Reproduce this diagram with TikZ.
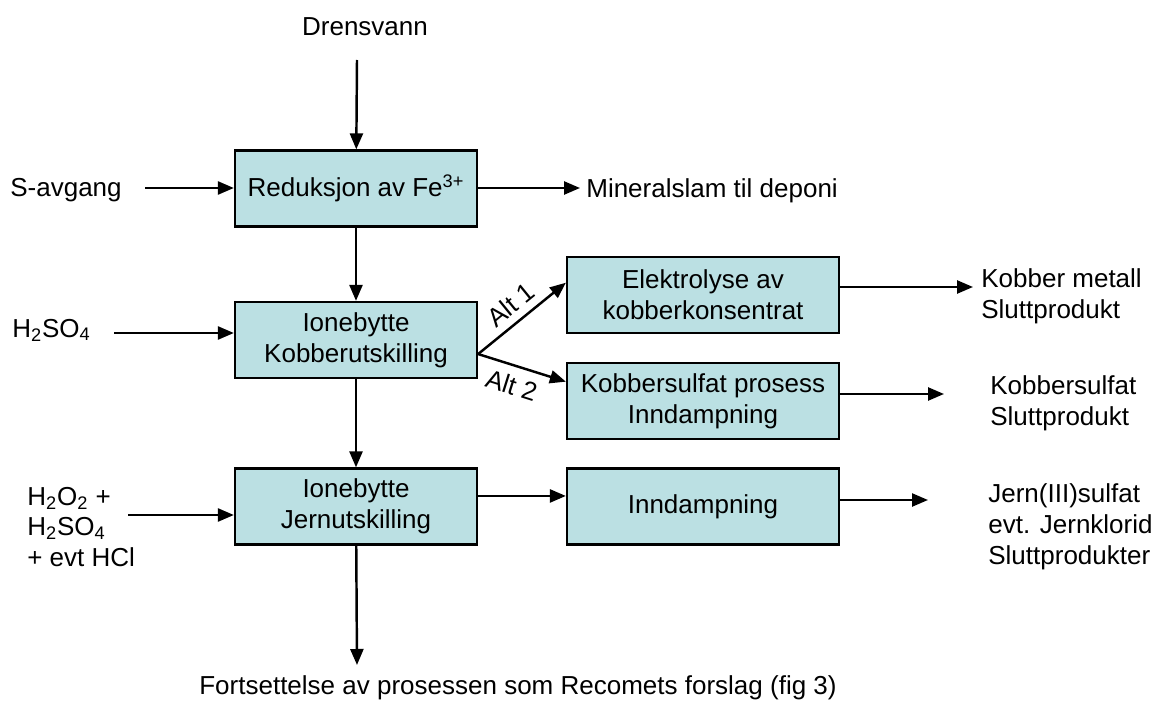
\documentclass[tikz,border=0pt]{standalone}
\usepackage{fontspec}
\setmainfont{Liberation Sans}
\usetikzlibrary{positioning}
\usetikzlibrary{arrows.meta}

\definecolor{boxfill}{RGB}{187,224,227}

\begin{document}
\begin{tikzpicture}[x=0.02cm,y=-0.02cm,
    txt/.style={font=\fontsize{14.8}{17.6}\selectfont, inner sep=0pt},
    box/.style={txt, draw=black, line width=1.3pt, fill=boxfill, align=center,
        minimum width=4.84cm, minimum height=1.52cm},
    widebox/.style={box, minimum width=5.44cm},
    flow/.style={line width=1.4pt, -{Triangle[length=0.32cm,width=0.26cm]}}]

\useasboundingbox (0,0) rectangle (1157,706);

% process boxes
\node[box] (red) at (356,188.5) {Reduksjon av Fe\textsuperscript{3+}};
\node[box] (kob) at (356,340) {Ionebytte\\Kobberutskilling};
\node[box] (jern) at (356,506.5) {Ionebytte\\Jernutskilling};
\node[widebox] (elek) at (703,295) {Elektrolyse av\\kobberkonsentrat};
\node[widebox] (ksulf) at (703,401) {Kobbersulfat prosess\\Inndampning};
\node[widebox] (inndamp) at (703,506.5) {Inndampning};

% inputs and products
\begin{scope}[every node/.append style={txt, align=left}]
\node (dren) at (365,27) {Drensvann};
\node[anchor=west] (savg) at (10,190) {S-avgang};
\node[anchor=west] (mineral) at (586,191) {Mineralslam til deponi};
\node[anchor=west] (h2so4) at (12,330) {H\textsubscript{2}SO\textsubscript{4}};
\node[anchor=west] (h2o2) at (27,527) {H\textsubscript{2}O\textsubscript{2} +\\H\textsubscript{2}SO\textsubscript{4}\\+ evt HCl};
\node[anchor=west] (kmet) at (981,296) {Kobber metall\\Sluttprodukt};
\node[anchor=west] (ksprod) at (990,403) {Kobbersulfat\\Sluttprodukt};
\node[anchor=west] (jprod) at (988,527) {Jern(III)sulfat\\evt. Jernklorid\\Sluttprodukter};
\node (forts) at (518,688) {Fortsettelse av prosessen som Recomets forslag (fig 3)};
\end{scope}

% free arrow ends
\coordinate (drentop) at (357,60);
\coordinate (savgstart) at (145,188);
\coordinate (mineralend) at (580,188);
\coordinate (h2so4start) at (114,333);
\coordinate (h2o2start) at (128,515);
\coordinate (kmetend) at (973,287);
\coordinate (ksend) at (944,394);
\coordinate (jprodend) at (928,500);
\coordinate (fortsend) at (357,665);

% main line
\draw[flow] (drentop) -- (red);
\draw[flow] (red) -- (kob);
\draw[flow] (kob) -- (jern);
\draw[flow] (jern) -- (fortsend);

% feeds
\draw[flow] (savgstart) -- (savgstart -| red.west);
\draw[flow] (h2so4start) -- (h2so4start -| kob.west);
\draw[flow] (h2o2start) -- (h2o2start -| jern.west);
\draw[flow] (red.east |- mineralend) -- (mineralend);

% alternatives
\draw[flow] ([yshift=-8]kob.east) -- node[txt, sloped, above=4pt, pos=.5] {Alt 1} ([yshift=7]elek.west);
\draw[flow] ([yshift=-8]kob.east) -- node[txt, sloped, below=5pt, pos=.45] {Alt 2} ([yshift=11]ksulf.west);
\draw[flow] ([yshift=6]jern.east) -- ([yshift=6]inndamp.west);

% products
\draw[flow] (elek.east |- kmetend) -- (kmetend);
\draw[flow] (ksulf.east |- ksend) -- (ksend);
\draw[flow] (inndamp.east |- jprodend) -- (jprodend);

\end{tikzpicture}
\end{document}
